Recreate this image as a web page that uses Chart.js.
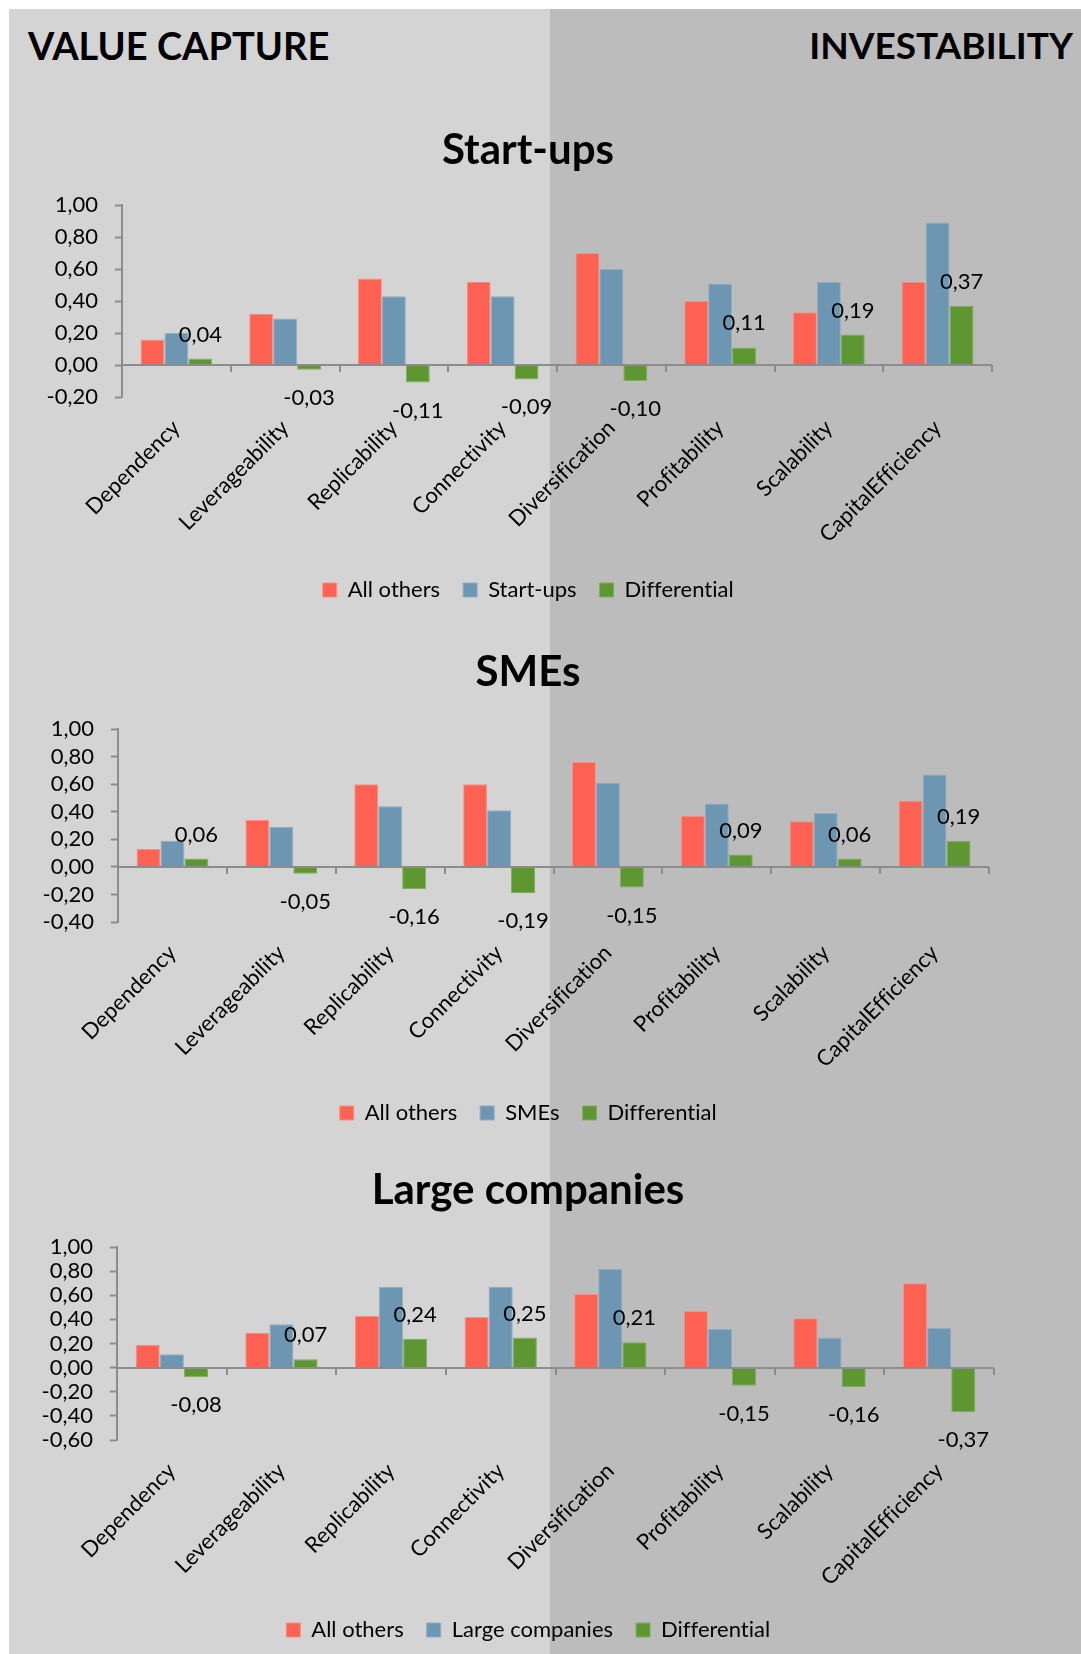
<!DOCTYPE html>
<html>
<head>
<meta charset="utf-8">
<title>Value capture vs investability</title>
<script src="https://cdn.jsdelivr.net/npm/chart.js@4.4.1/dist/chart.umd.min.js"></script>
<style>
  html, body { margin: 0; padding: 0; background: #fff; }
  body { width: 1081px; height: 1654px; position: relative; overflow: hidden; font-family: Lato, sans-serif; }
  .bg-left  { position: absolute; left: 9px; top: 9px; width: 541px; bottom: 0; background: #d4d4d4; }
  .bg-right { position: absolute; left: 550px; top: 9px; right: 0; bottom: 0; background: #bcbcbc; }
  .heading  { position: absolute; top: 26px; font: bold 38px/38px Lato, sans-serif; color: #000; white-space: nowrap; }
  .chart-box { position: absolute; left: 0; width: 1081px; }
</style>
</head>
<body>
<div class="bg-left"></div>
<div class="bg-right"></div>
<div class="heading" style="left:28px">VALUE CAPTURE</div>
<div class="heading" style="right:8px; font-size:37px">INVESTABILITY</div>

<div class="chart-box" id="box1"><canvas id="chartStartups"></canvas></div>
<div class="chart-box" id="box2"><canvas id="chartSmes"></canvas></div>
<div class="chart-box" id="box3"><canvas id="chartLarge"></canvas></div>

<script>
// ---- data -------------------------------------------------------------
const categories = ['Dependency', 'Leverageability', 'Replicability', 'Connectivity',
                    'Diversification', 'Profitability', 'Scalability', 'CapitalEfficiency'];

const startupsOthers = [0.16, 0.32, 0.54, 0.52, 0.70, 0.40, 0.33, 0.52];
const startupsGroup  = [0.20, 0.29, 0.43, 0.43, 0.60, 0.51, 0.52, 0.89];
const startupsDiff   = [0.04, -0.03, -0.11, -0.09, -0.10, 0.11, 0.19, 0.37];

const smesOthers = [0.13, 0.34, 0.60, 0.60, 0.76, 0.37, 0.33, 0.48];
const smesGroup  = [0.19, 0.29, 0.44, 0.41, 0.61, 0.46, 0.39, 0.67];
const smesDiff   = [0.06, -0.05, -0.16, -0.19, -0.15, 0.09, 0.06, 0.19];

const largeOthers = [0.19, 0.29, 0.43, 0.42, 0.61, 0.47, 0.41, 0.70];
const largeGroup  = [0.11, 0.36, 0.67, 0.67, 0.82, 0.32, 0.25, 0.33];
const largeDiff   = [-0.08, 0.07, 0.24, 0.25, 0.21, -0.15, -0.16, -0.37];

const yTicksStartups = { min: -0.2, max: 1.0, step: 0.2 };
const yTicksSmes     = { min: -0.4, max: 1.0, step: 0.2 };
const yTicksLarge    = { min: -0.6, max: 1.0, step: 0.2 };

// ---- look -------------------------------------------------------------
const AXIS_GREY = '#8c8c8c';
const COL_OTHERS = '#ff6152', COL_GROUP = '#6d96b3', COL_DIFF = '#5e9732';
const FONT = 'Lato';
const CENTER_X = 528;          // where title & legend are centred
const PAD_L = 10;
const TITLE_SIZE = 42, TITLE_H = TITLE_SIZE * 1.2;
const TICK_FONT = 22;
const LEG_FONT = 22, LEG_PAD = 23, LEG_H = LEG_FONT + LEG_PAD + 10;

// page placement of each chart (pixel positions)
const place1 = { top: 105,  titleY: 150,  areaTop: 205,  areaBottom: 397,  legendY: 590,  left: 122, right: 992 };
const place2 = { top: 627,  titleY: 672,  areaTop: 729,  areaBottom: 922,  legendY: 1113, left: 118, right: 989 };
const place3 = { top: 1144, titleY: 1190, areaTop: 1247, areaBottom: 1440, legendY: 1630, left: 117, right: 994 };

function fmt(v) {
  if (Math.abs(v) < 1e-9) v = 0;
  return v.toFixed(2).replace('.', ',');
}

// Lato's "fi" ligature renders badly here, so switch ligatures off
const noLigatures = {
  id: 'noLigatures',
  beforeDraw(chart) { chart.ctx.textRendering = 'optimizeSpeed'; }
};

// zero axis line drawn over the bars, with category tick marks
const zeroAxis = {
  id: 'zeroAxis',
  afterDatasetsDraw(chart) {
    const { ctx, chartArea, scales: { x, y } } = chart;
    const y0 = Math.round(y.getPixelForValue(0));
    ctx.save();
    ctx.strokeStyle = AXIS_GREY;
    ctx.lineWidth = 2;
    ctx.beginPath();
    ctx.moveTo(chartArea.left, y0);
    ctx.lineTo(chartArea.right, y0);
    for (let i = 0; i <= chart.data.labels.length; i++) {
      const px = Math.round(x.getPixelForValue(i - 0.5));
      ctx.moveTo(px, y0);
      ctx.lineTo(px, y0 + 7);
    }
    ctx.stroke();
    ctx.restore();
  }
};

// value labels on the Differential series only
const diffLabels = {
  id: 'diffLabels',
  afterDatasetsDraw(chart) {
    const ctx = chart.ctx;
    const meta = chart.getDatasetMeta(2);
    const values = chart.data.datasets[2].data;
    ctx.save();
    ctx.font = `${TICK_FONT}px ${FONT}`;
    ctx.fillStyle = '#000';
    ctx.textAlign = 'center';
    ctx.textBaseline = 'middle';
    meta.data.forEach((bar, i) => {
      const v = values[i];
      const ly = v >= 0 ? bar.y - 24 : bar.y + 28;
      ctx.fillText(fmt(v), bar.x, ly);
    });
    ctx.restore();
  }
};

function buildChart(boxId, canvasId, place, title, groupName, others, group, diff, yt) {
  const padTop = place.titleY - place.top - TITLE_H / 2;
  const padBottom = place.areaTop - place.top - padTop - TITLE_H;
  const bottom = place.legendY + 21;
  const height = bottom - place.top;
  const xHeight = bottom - LEG_H - place.areaBottom;
  const padR = PAD_L + 1081 - 2 * CENTER_X;
  const yWidth = place.left - PAD_L;
  const rightGap = 1081 - padR - place.right;

  const box = document.getElementById(boxId);
  box.style.top = place.top + 'px';
  box.style.height = height + 'px';

  return new Chart(document.getElementById(canvasId), {
    type: 'bar',
    data: {
      labels: categories,
      datasets: [
        { label: 'All others', data: others, backgroundColor: COL_OTHERS, borderColor: '#ff8f84', borderWidth: 1 },
        { label: groupName, data: group, backgroundColor: COL_GROUP, borderColor: '#8eaec6', borderWidth: 1 },
        { label: 'Differential', data: diff, backgroundColor: COL_DIFF, borderColor: '#7fae5a', borderWidth: 1 }
      ]
    },
    options: {
      responsive: true,
      maintainAspectRatio: false,
      animation: false,
      datasets: { bar: { categoryPercentage: 0.66, barPercentage: 1.0 } },
      layout: { padding: { left: PAD_L, right: padR, top: 0, bottom: 0 } },
      plugins: {
        title: {
          display: true,
          text: title,
          color: '#000',
          font: { family: FONT, size: TITLE_SIZE, weight: 'bold', lineHeight: 1.2 },
          padding: { top: padTop, bottom: padBottom }
        },
        legend: {
          position: 'bottom',
          labels: {
            color: '#000',
            font: { family: FONT, size: LEG_FONT },
            boxWidth: 14,
            boxHeight: 14,
            padding: LEG_PAD
          }
        },
        tooltip: { enabled: false }
      },
      scales: {
        x: {
          grid: { display: false },
          border: { display: false },
          ticks: {
            color: '#000',
            font: { family: FONT, size: 22 },
            minRotation: 45,
            maxRotation: 45,
            autoSkip: false,
            padding: 10
          },
          afterFit: (s) => { s.height = xHeight; }
        },
        y: {
          min: yt.min,
          max: yt.max,
          grid: { color: 'transparent', tickColor: AXIS_GREY, tickLength: 7, tickWidth: 2 },
          border: { display: true, color: AXIS_GREY, width: 2 },
          ticks: {
            stepSize: yt.step,
            autoSkip: false,
            color: '#000',
            font: { family: FONT, size: TICK_FONT },
            padding: 17,
            callback: (v) => fmt(v)
          },
          afterFit: (s) => { s.width = yWidth; }
        },
        // empty box on the right so the plot ends where the reference does
        gap: {
          position: 'right',
          grid: { display: false },
          border: { display: false },
          ticks: { display: false },
          afterFit: (s) => { s.width = rightGap; }
        }
      }
    },
    plugins: [noLigatures, zeroAxis, diffLabels]
  });
}

buildChart('box1', 'chartStartups', place1, 'Start-ups', 'Start-ups',
           startupsOthers, startupsGroup, startupsDiff, yTicksStartups);
buildChart('box2', 'chartSmes', place2, 'SMEs', 'SMEs',
           smesOthers, smesGroup, smesDiff, yTicksSmes);
buildChart('box3', 'chartLarge', place3, 'Large companies', 'Large companies',
           largeOthers, largeGroup, largeDiff, yTicksLarge);
</script>
</body>
</html>
